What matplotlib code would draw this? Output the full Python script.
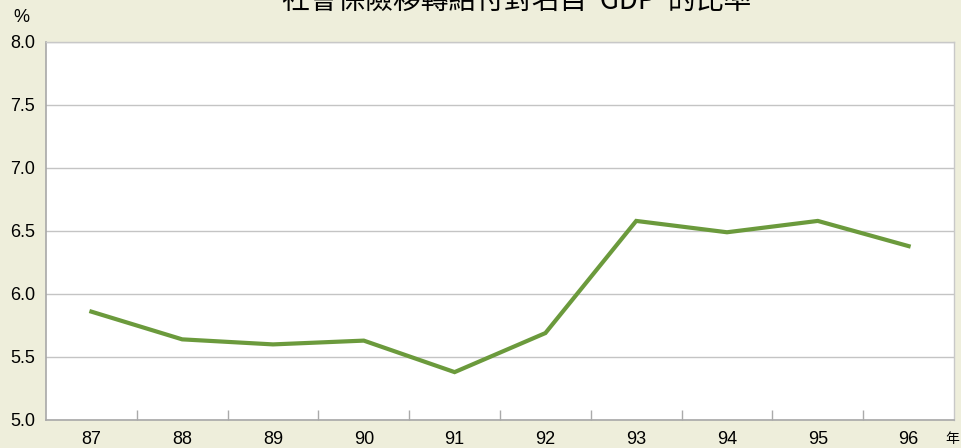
import matplotlib
matplotlib.use("Agg")
import matplotlib.pyplot as plt
from matplotlib.ticker import FixedLocator, NullFormatter

plt.rcParams['font.family'] = ['Liberation Sans', 'Noto Sans CJK TC', 'DejaVu Sans']

years = ["87", "88", "89", "90", "91", "92", "93", "94", "95", "96"]
values = [5.86, 5.64, 5.60, 5.63, 5.38, 5.69, 6.58, 6.49, 6.58, 6.38]
yticks = [5.0, 5.5, 6.0, 6.5, 7.0, 7.5, 8.0]
title = "社會保險移轉給付對名目  GDP  的比率"

bg = "#EEEEDB"
fig = plt.figure(figsize=(9.62, 4.48), dpi=100, facecolor=bg)
ax = fig.add_axes([46/962, 1-420/448, (954-46)/962, (420-42)/448])
ax.set_facecolor("white")

x = list(range(len(years)))
ax.plot(x, values, color="#6B9A3C", linewidth=3.0, solid_joinstyle="miter", zorder=3)

ax.set_xlim(-0.5, len(years) - 0.5)
ax.set_ylim(5.0, 8.0)
ax.set_yticks(yticks)
ax.set_yticklabels([f"{v:.1f}" for v in yticks])
ax.yaxis.grid(True, color="#C4C4C4", linewidth=1.0)
ax.set_axisbelow(True)
ax.tick_params(axis="y", length=0, pad=8, labelsize=13, colors="black")

ax.set_xticks(x)
ax.set_xticklabels(years)
ax.tick_params(axis="x", which="major", length=0, pad=8, labelsize=13)
ax.xaxis.set_minor_locator(FixedLocator([i + 0.5 for i in range(len(years) - 1)]))
ax.xaxis.set_minor_formatter(NullFormatter())
ax.tick_params(axis="x", which="minor", direction="in", length=7, color="#AAAAAA", width=1)

for s in ["left", "bottom"]:
    ax.spines[s].set_color("#A8A8A8")
    ax.spines[s].set_linewidth(1.2)
for s in ["top", "right"]:
    ax.spines[s].set_color("#C8C8C8")
    ax.spines[s].set_linewidth(1.0)

fig.text(21/962, 1-18/448, "%", fontsize=13, ha="center", va="center")
fig.text(952/962, 1-439/448, "年", fontsize=10, ha="center", va="center",
         family=["Noto Sans CJK TC", "DejaVu Sans"])
fig.text(517/962, 1 - 1/448, title, fontsize=20, ha="center", va="center",
         family=["Noto Sans CJK TC", "DejaVu Sans"])

fig.savefig("out.png", dpi=100, facecolor=bg)
